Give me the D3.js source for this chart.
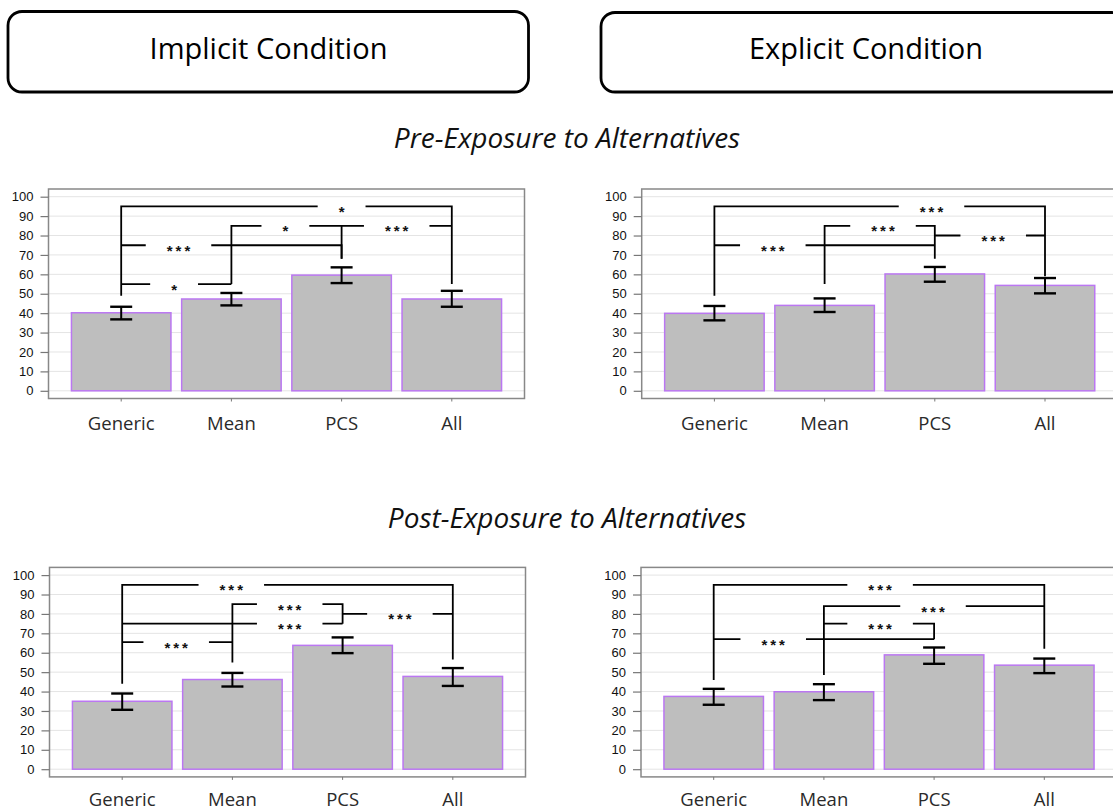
<!DOCTYPE html>
<html>
<head>
<meta charset="utf-8">
<script src="https://cdn.jsdelivr.net/npm/d3@7"></script>
<style>
  html, body { margin: 0; padding: 0; background: #fff; }
  svg { display: block; }
</style>
</head>
<body>
<svg id="chart" width="1113" height="812"></svg>
<script>
// ---- data ----
const categories = ["Generic", "Mean", "PCS", "All"];
const yTicks = [0, 10, 20, 30, 40, 50, 60, 70, 80, 90, 100];

const conditionTitles = ["Implicit Condition", "Explicit Condition"];
const phaseTitles = ["Pre-Exposure to Alternatives", "Post-Exposure to Alternatives"];

// percentages with lower / upper error bounds
const preImplicitMeans = [40.2, 47.3, 59.6, 47.3];
const preImplicitLower = [36.8, 44.0, 55.5, 43.3];
const preImplicitUpper = [43.3, 50.4, 63.6, 51.5];

const preExplicitMeans = [39.9, 44.0, 60.2, 54.3];
const preExplicitLower = [36.3, 40.6, 56.2, 50.2];
const preExplicitUpper = [43.7, 47.6, 63.8, 58.1];

const postImplicitMeans = [35.0, 46.2, 63.8, 47.8];
const postImplicitLower = [30.6, 42.6, 59.8, 42.9];
const postImplicitUpper = [39.0, 49.6, 67.9, 52.1];

const postExplicitMeans = [37.5, 39.9, 58.9, 53.6];
const postExplicitLower = [33.2, 35.6, 54.3, 49.5];
const postExplicitUpper = [41.4, 43.8, 62.7, 57.0];

// significance brackets: pair, bracket level, stars, label position (category units), leg ends
const preImplicitBrackets = [
  { from: "Generic", to: "All",  level: 95, label: "*",   at: 2.00, legs: [49, 55] },
  { from: "Mean",    to: "PCS",  level: 85, label: "*",   at: 1.49, legs: [55, 68] },
  { from: "PCS",     to: "All",  level: 85, label: "***", at: 2.50, legs: [85, 85] },
  { from: "Generic", to: "PCS",  level: 75, label: "***", at: 0.52, legs: [75, 68] },
  { from: "Generic", to: "Mean", level: 55, label: "*",   at: 0.48, legs: [55, 55] }
];
const preExplicitBrackets = [
  { from: "Generic", to: "All",  level: 95, label: "***", at: 1.97, legs: [49, 59] },
  { from: "Mean",    to: "PCS",  level: 85, label: "***", at: 1.53, legs: [55, 68] },
  { from: "PCS",     to: "All",  level: 80, label: "***", at: 2.53, legs: [80, 80] },
  { from: "Generic", to: "PCS",  level: 75, label: "***", at: 0.53, legs: [75, 75] }
];
const postImplicitBrackets = [
  { from: "Generic", to: "All",  level: 95,   label: "***", at: 0.99, legs: [44, 56.5] },
  { from: "Mean",    to: "PCS",  level: 85,   label: "***", at: 1.52, legs: [55, 75] },
  { from: "PCS",     to: "All",  level: 80,   label: "***", at: 2.52, legs: [80, 80] },
  { from: "Generic", to: "PCS",  level: 75,   label: "***", at: 1.52, legs: [75, 75] },
  { from: "Generic", to: "Mean", level: 65.5, label: "***", at: 0.49, legs: [65.5, 65.5] }
];
const postExplicitBrackets = [
  { from: "Generic", to: "All",  level: 95, label: "***", at: 1.51, legs: [46, 62] },
  { from: "Mean",    to: "All",  level: 84, label: "***", at: 1.99, legs: [48.5, 84] },
  { from: "Mean",    to: "PCS",  level: 75, label: "***", at: 1.51, legs: [75, 67] },
  { from: "Generic", to: "PCS",  level: 67, label: "***", at: 0.54, legs: [67, 67] }
];

// ---- layout ----
const svg = d3.select("#chart");
const FONT = "'Open Sans', 'Noto Sans', sans-serif";
const SANS = "'Liberation Sans', Arial, sans-serif";
const PW = 476, PH = 209.5;

const panels = [
  { left: 48.5,  top: 189,   labelPad: 15.6, means: preImplicitMeans,  lower: preImplicitLower,  upper: preImplicitUpper,  brackets: preImplicitBrackets },
  { left: 641.7, top: 189,   labelPad: 15.6, means: preExplicitMeans,  lower: preExplicitLower,  upper: preExplicitUpper,  brackets: preExplicitBrackets },
  { left: 49.5,  top: 567.4, labelPad: 13,   means: postImplicitMeans, lower: postImplicitLower, upper: postImplicitUpper, brackets: postImplicitBrackets },
  { left: 641,   top: 567.4, labelPad: 13,   means: postExplicitMeans, lower: postExplicitLower, upper: postExplicitUpper, brackets: postExplicitBrackets }
];

// condition header boxes
const headerBoxes = [
  { x: 8,   y: 11.5, w: 520.5, h: 80.5, cx: 268.5, base: 58.5 },
  { x: 601, y: 12.5, w: 525,   h: 79.5, cx: 866,   base: 59 }
];
headerBoxes.forEach((b, i) => {
  svg.append("rect")
    .attr("x", b.x).attr("y", b.y).attr("width", b.w).attr("height", b.h)
    .attr("rx", 14).attr("ry", 14)
    .attr("fill", "#fff").attr("stroke", "#000").attr("stroke-width", 2.8);
  svg.append("text")
    .attr("x", b.cx).attr("y", b.base)
    .attr("text-anchor", "middle")
    .attr("font-family", FONT).attr("font-size", 29)
    .attr("fill", "#000")
    .text(conditionTitles[i]);
});

// phase subtitles
[148.3, 528].forEach((base, i) => {
  svg.append("text")
    .attr("x", 567).attr("y", base)
    .attr("text-anchor", "middle")
    .attr("font-family", FONT).attr("font-size", 28)
    .attr("font-style", "italic")
    .attr("fill", "#111")
    .text(phaseTitles[i]);
});

panels.forEach(p => {
  const g = svg.append("g").attr("transform", `translate(${p.left},${p.top})`);

  const x = d3.scaleBand()
    .domain(categories)
    .range([17.6, PW - 17.6])
    .paddingInner(0.097)
    .paddingOuter(0.0485);
  const y = d3.scaleLinear().domain([0, 100]).range([PH - 7.7, 7.7]);
  const cx = c => x(c) + x.bandwidth() / 2;
  const step = x.step();
  const idxX = t => cx(categories[0]) + t * step;

  // grid
  g.append("g").selectAll("line").data(yTicks).join("line")
    .attr("x1", 0).attr("x2", PW)
    .attr("y1", d => y(d)).attr("y2", d => y(d))
    .attr("stroke", "#e4e4e4").attr("stroke-width", 1);

  // bars
  g.append("g").selectAll("rect").data(categories).join("rect")
    .attr("x", d => x(d))
    .attr("y", (d, i) => y(p.means[i]))
    .attr("width", x.bandwidth())
    .attr("height", (d, i) => y(0) - y(p.means[i]))
    .attr("fill", "#bebebe")
    .attr("stroke", "#bb77f2")
    .attr("stroke-width", 1.5);

  // error bars
  const eb = g.append("g").attr("stroke", "#000").attr("fill", "none");
  categories.forEach((c, i) => {
    const xc = cx(c);
    eb.append("line").attr("x1", xc).attr("x2", xc)
      .attr("y1", y(p.lower[i])).attr("y2", y(p.upper[i])).attr("stroke-width", 2);
    [p.lower[i], p.upper[i]].forEach(v => {
      eb.append("line").attr("x1", xc - 11).attr("x2", xc + 11)
        .attr("y1", y(v)).attr("y2", y(v)).attr("stroke-width", 2.4);
    });
  });

  // significance brackets
  const bg = g.append("g");
  p.brackets.forEach(b => {
    const x1 = cx(b.from), x2 = cx(b.to), yl = y(b.level);
    const lx = idxX(b.at);
    const t = bg.append("text")
      .attr("y", yl + 10.5)
      .attr("font-family", SANS)
      .attr("font-size", 15).attr("font-weight", "bold")
      .attr("letter-spacing", 3)
      .attr("fill", "#111")
      .text(b.label);
    const w = t.node().getComputedTextLength() - 3;
    t.attr("x", lx - w / 2);
    const half = w / 2 + 21;
    const path = d3.path();
    path.moveTo(x1, y(b.legs[0]));
    path.lineTo(x1, yl);
    path.lineTo(lx - half, yl);
    path.moveTo(lx + half, yl);
    path.lineTo(x2, yl);
    path.lineTo(x2, y(b.legs[1]));
    bg.append("path").attr("d", path.toString())
      .attr("fill", "none").attr("stroke", "#000").attr("stroke-width", 1.8);
  });

  // frame
  g.append("rect").attr("x", 0).attr("y", 0).attr("width", PW).attr("height", PH)
    .attr("fill", "none").attr("stroke", "#888").attr("stroke-width", 1.5);

  // y axis
  const ya = g.append("g").call(
    d3.axisLeft(y).tickValues(yTicks).tickSize(8).tickPadding(7)
  );
  ya.select(".domain").remove();
  ya.selectAll(".tick line").attr("stroke", "#777").attr("stroke-width", 1.2);
  ya.selectAll(".tick text")
    .attr("font-family", SANS)
    .attr("font-size", 13).attr("fill", "#111");

  // x axis
  const xa = g.append("g").attr("transform", `translate(0,${PH})`).call(
    d3.axisBottom(x).tickSize(3).tickPadding(p.labelPad)
  );
  xa.select(".domain").remove();
  xa.selectAll(".tick line").attr("stroke", "#777");
  xa.selectAll(".tick text")
    .attr("font-family", FONT).attr("font-size", 18.5).attr("fill", "#2a2a2a");
});
</script>
</body>
</html>
